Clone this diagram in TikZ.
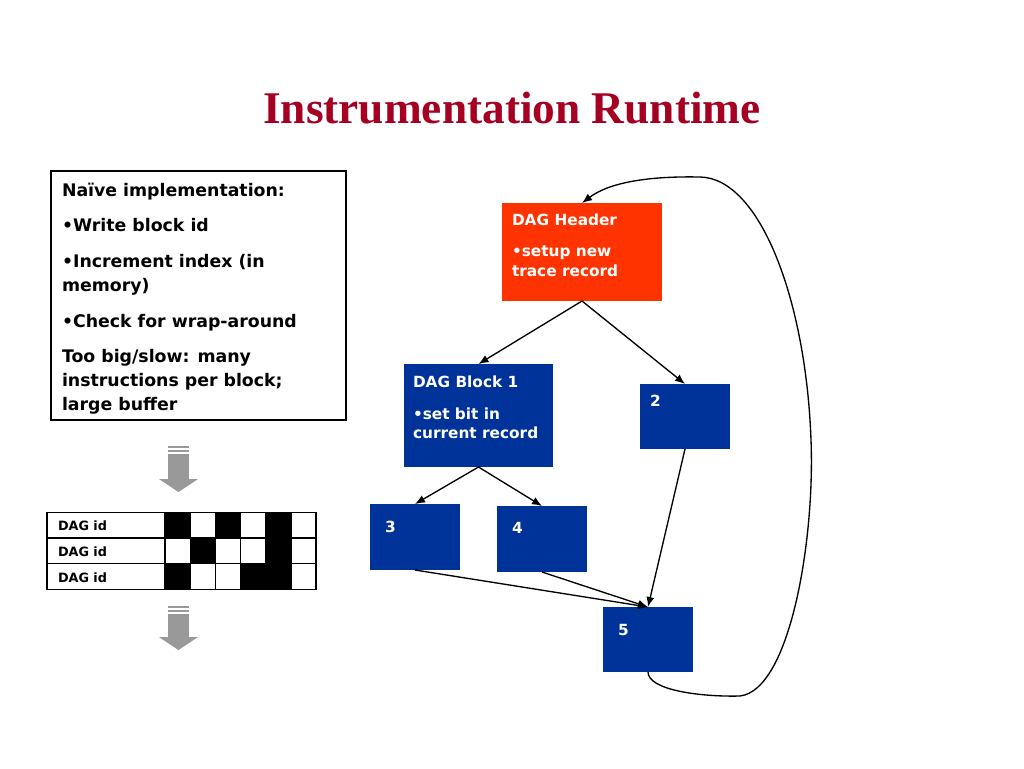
\documentclass[tikz,border=0pt]{standalone}
\usepackage{fontspec}
\setmainfont{DejaVu Sans}
\newfontfamily\titlefont{Liberation Serif}
\usetikzlibrary{arrows.meta}
\definecolor{titlered}{HTML}{A50021}
\definecolor{hdrred}{HTML}{FF3300}
\definecolor{dagblue}{HTML}{003399}
\definecolor{arrgray}{HTML}{999999}
\begin{document}
\begin{tikzpicture}[x=0.75pt,y=-0.75pt,
  every node/.style={inner sep=0pt, outer sep=0pt},
  bluebox/.style={fill=dagblue, anchor=north west},
  hdrbox/.style={fill=hdrred, anchor=north west},
  boxtxt/.style={anchor=base west, text=white, font=\fontsize{11.5}{14}\selectfont\bfseries},
  lefttxt/.style={anchor=base west, font=\fontsize{13}{16}\selectfont\bfseries},
  idtxt/.style={anchor=base west, font=\fontsize{9.6}{12}\selectfont\bfseries},
  conn/.style={-{Latex[length=7.5pt,width=6pt]}, line width=1pt},
  grayarrow/.style={fill=arrgray},
]
\useasboundingbox (0,0) rectangle (1024,768);

% title
\node[anchor=base, text=titlered, font=\fontsize{34}{40}\selectfont\titlefont\bfseries] (title) at (512,123) {Instrumentation Runtime};

% left text box
\node[draw=black, line width=0.8pt, anchor=north west, minimum width=221.25pt, minimum height=186.75pt] (naive) at (51,171) {};
\node[lefttxt] (l1) at (62,196) {Naïve implementation:};
\node[lefttxt] (l2) at (62,231) {•Write block id};
\node[lefttxt] (l3) at (62,267) {•Increment index (in};
\node[lefttxt] (l4) at (62,291) {memory)};
\node[lefttxt] (l5) at (62,327) {•Check for wrap-around};
\node[lefttxt] (l6) at (62,362) {Too big/slow: many};
\node[lefttxt] (l7) at (62,386) {instructions per block;};
\node[lefttxt] (l8) at (62,410) {large buffer};

% gray arrow 1
\fill[grayarrow] (168,446) rectangle (189,448);
\fill[grayarrow] (168,450) rectangle (189,452);
\fill[grayarrow] (168,454) rectangle (189,479);
\fill[grayarrow] (159,479) -- (198,479) -- (178.5,492) -- cycle;

% table
\foreach \r/\pat in {0/{1,0,1,0,1,0}, 1/{0,1,0,0,1,0}, 2/{1,0,0,1,1,0}} {
  \foreach \v [count=\c from 0] in \pat {
    \ifnum\v=1
      \fill[black] ({165+25.2*\c},{512.5+25.6*\r}) rectangle ({165+25.2*(\c+1)},{512.5+25.6*(\r+1)});
    \fi
  }
}
\draw[line width=1pt] (47,512.5) rectangle (316,589.3);
\draw[line width=1pt] (47,538.1) -- (316,538.1);
\draw[line width=1pt] (47,563.7) -- (316,563.7);
\foreach \c in {0,...,5} {
  \draw[line width=1pt] ({165+25.2*\c},512.5) -- ({165+25.2*\c},589.3);
}
\node[idtxt] (id1) at (58,530) {DAG id};
\node[idtxt] (id2) at (58,556) {DAG id};
\node[idtxt] (id3) at (58,582) {DAG id};

% gray arrow 2
\fill[grayarrow] (168,606) rectangle (189,608);
\fill[grayarrow] (168,610) rectangle (189,612);
\fill[grayarrow] (168,614) rectangle (189,637);
\fill[grayarrow] (159,637) -- (198,637) -- (178.5,650) -- cycle;

% DAG boxes
\node[hdrbox, minimum width=120pt, minimum height=73.5pt] (hdr) at (502,203) {};
\node[boxtxt] (hdrt1) at (512,225) {DAG Header};
\node[boxtxt] (hdrt2) at (512,256) {•setup new};
\node[boxtxt] (hdrt3) at (512,276) {trace record};

\node[bluebox, minimum width=111.75pt, minimum height=77.25pt] (b1) at (404,364) {};
\node[boxtxt] (b1t1) at (413,387) {DAG Block 1};
\node[boxtxt] (b1t2) at (413,419) {•set bit in};
\node[boxtxt] (b1t3) at (413,438) {current record};

\node[bluebox, minimum width=67.5pt, minimum height=48.75pt] (b2) at (640,384) {};
\node[boxtxt] (b2t) at (650,406) {2};
\node[bluebox, minimum width=67.5pt, minimum height=49.5pt] (b3) at (370,504) {};
\node[boxtxt] (b3t) at (385,532) {3};
\node[bluebox, minimum width=67.5pt, minimum height=49.5pt] (b4) at (497,506) {};
\node[boxtxt] (b4t) at (512,533) {4};
\node[bluebox, minimum width=67.5pt, minimum height=48.75pt] (b5) at (603,607) {};
\node[boxtxt] (b5t) at (618,635) {5};

% connectors
\draw[conn] (hdr.south) -- (b1.north);
\draw[conn] (hdr.south) -- (b2.north);
\draw[conn] (b1.south) -- (b3.north);
\draw[conn] (b1.south) -- (b4.north);
\draw[conn] (b3.south) -- (b5.north);
\draw[conn] (b4.south) -- (b5.north);
\draw[conn] (b2.south) -- (b5.north);
\draw[conn] (b5.south) .. controls (648,690) and (700,697) .. (740,696)
  .. controls (790,690) and (815,540) .. (811,440)
  .. controls (806,300) and (760,178) .. (700,177)
  .. controls (650,176) and (610,182) .. (hdr.north);
\end{tikzpicture}
\end{document}
